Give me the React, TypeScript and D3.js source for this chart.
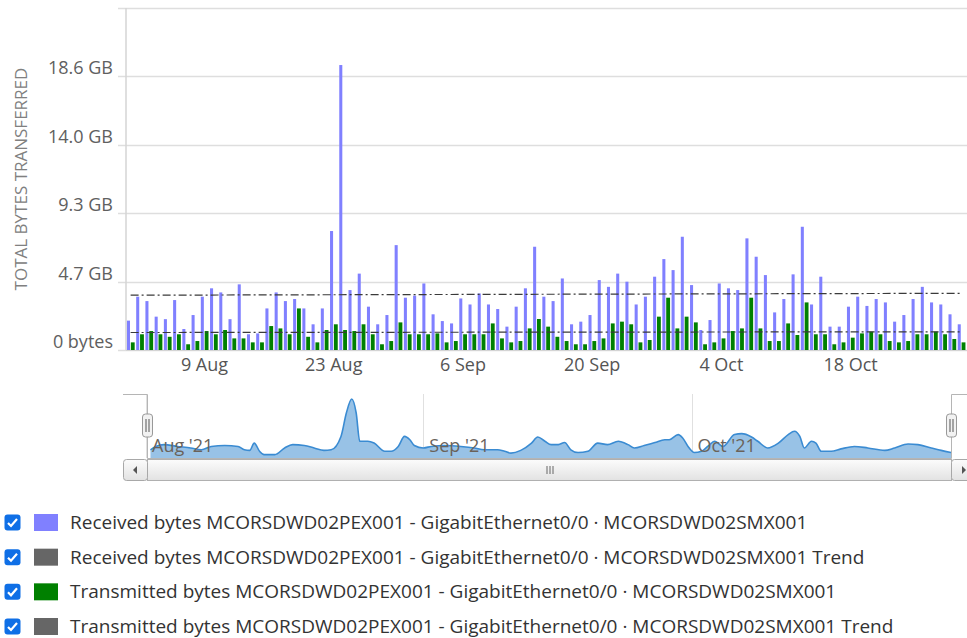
import React, { useEffect, useRef } from 'react';
import * as d3 from 'd3';

// daily values, GB (GiB), 1 Aug 2021 .. 30 Oct 2021
const startDay = new Date(2021, 7, 1);

const receivedGB = [
  2.0, 3.63, 3.33, 2.27, 2.1, 3.4, 1.43, 2.38, 3.63, 4.2,
  3.92, 2.1, 4.47, 1.07, 1.13, 2.83, 3.92, 3.33, 3.47, 2.83,
  1.75, 2.83, 8.1, 19.4, 4.08, 5.2, 2.95, 1.75, 2.38, 7.14,
  3.56, 3.7, 4.53, 2.43, 1.97, 1.81, 3.51, 3.1, 3.85, 3.1,
  2.79, 1.59, 2.95, 4.2, 7.03, 3.63, 3.33, 4.87, 1.75, 1.93,
  2.38, 4.76, 4.3, 5.2, 4.65, 3.1, 3.63, 4.99, 6.19, 5.44,
  7.71, 4.42, 1.36, 2.04, 4.53, 4.2, 4.08, 7.6, 6.35, 5.1,
  2.56, 3.47, 5.15, 8.39, 3.1, 4.99, 1.59, 1.59, 2.95, 3.63,
  3.0, 3.47, 3.24, 1.93, 2.38, 3.47, 4.3, 3.24, 3.1, 2.43,
  1.75,
];

const transmittedGB = [
  0.52, 1.07, 1.29, 1.07, 0.9, 1.07, 0.39, 0.61, 1.29, 1.07,
  1.36, 0.79, 0.79, 0.52, 0.52, 1.63, 1.47, 1.07, 2.83, 0.9,
  0.52, 1.36, 1.75, 1.36, 1.29, 1.75, 1.07, 0.39, 0.61, 1.88,
  1.07, 1.07, 1.07, 1.13, 0.52, 0.61, 1.07, 1.07, 1.07, 1.81,
  0.79, 0.52, 0.61, 1.47, 2.11, 1.59, 0.9, 0.61, 0.39, 0.39,
  0.61, 0.79, 1.81, 1.93, 1.75, 0.52, 0.68, 2.27, 3.56, 1.47,
  2.27, 1.88, 0.39, 0.52, 0.79, 1.29, 1.47, 3.56, 1.47, 0.61,
  0.61, 1.81, 1.02, 3.24, 1.07, 1.07, 0.39, 0.52, 0.84, 1.13,
  1.25, 1.07, 0.61, 0.52, 0.61, 1.07, 1.07, 1.25, 1.07, 0.75,
  0.52,
];

// trend lines: value at first and last day
const receivedTrend = [3.73, 3.86];
const transmittedTrend = [1.19, 1.24];

const yTickBytes = [0, 5e9, 10e9, 15e9, 20e9, 25e9];
const xTickDates = ['2021-08-09', '2021-08-23', '2021-09-06', '2021-09-20', '2021-10-04', '2021-10-18'];

// navigator series (day offset from 1 Aug, GB)
const navDays = [
  0.5, 1.1, 2.0, 3.5, 5.0, 6.2, 7.3, 8.8, 10.3, 11.0, 11.6, 12.1, 12.7, 13.2, 14.4, 15.5,
  16.4, 17.7, 18.8, 19.9, 20.7, 21.8, 22.4, 23.0, 23.5, 23.9, 24.8, 25.5, 26.7, 27.4, 28.2,
  28.9, 29.5, 30.0, 31.0, 31.9, 33.4, 35.2, 36.7, 37.8, 39.3, 40.1, 40.8, 41.9, 43.1, 43.8,
  44.6, 45.3, 46.1, 46.8, 47.5, 48.3, 49.4, 50.5, 51.6, 52.8, 53.9, 54.6, 55.7, 56.9, 58.0,
  58.5, 59.5, 60.0, 60.6, 61.3, 62.1, 62.8, 63.6, 64.5, 65.8, 66.6, 67.7, 68.4, 69.5, 70.7,
  71.8, 72.5, 73.1, 73.6, 74.4, 74.9, 75.5, 76.6, 77.7, 79.2, 80.7, 82.6, 83.7, 85.2, 86.3,
  87.8, 88.9, 90.0,
];
const navValues = [
  2.7, 3.8, 4.4, 3.8, 3.3, 2.7, 3.8, 4.1, 3.8, 2.7, 2.5, 4.9, 2.2, 1.1, 1.1, 3.3,
  4.4, 4.1, 3.3, 2.5, 2.7, 7.1, 14.8, 19.4, 14.8, 5.5, 5.5, 4.9, 2.2, 2.2, 3.8,
  7.1, 6.0, 4.1, 3.3, 3.8, 4.1, 3.8, 3.3, 2.7, 2.7, 2.2, 1.6, 2.5, 4.9, 6.9,
  5.5, 4.4, 4.4, 5.1, 2.7, 1.8, 2.2, 4.9, 4.4, 5.5, 4.4, 3.3, 4.1, 5.1, 6.0,
  6.0, 7.7, 6.6, 3.8, 1.8, 2.2, 3.8, 5.5, 3.8, 7.7, 8.0, 6.9, 5.5, 3.3, 4.9,
  7.7, 8.8, 7.1, 3.3, 5.5, 4.9, 2.2, 2.2, 3.0, 3.8, 3.3, 2.5, 3.3, 4.6, 4.4,
  3.3, 2.5, 1.8,
];
const navMonthDates = ['2021-08-01', '2021-09-01', '2021-10-01'];

const legendLabels = [
  'Received bytes MCORSDWD02PEX001 - GigabitEthernet0/0 · MCORSDWD02SMX001',
  'Received bytes MCORSDWD02PEX001 - GigabitEthernet0/0 · MCORSDWD02SMX001 Trend',
  'Transmitted bytes MCORSDWD02PEX001 - GigabitEthernet0/0 · MCORSDWD02SMX001',
  'Transmitted bytes MCORSDWD02PEX001 - GigabitEthernet0/0 · MCORSDWD02SMX001 Trend',
];
const legendColors = ['#8080ff', '#666666', '#008000', '#666666'];

const GiB = 1024 * 1024 * 1024;
const parseDay = (s: string) => {
  const [y, m, d] = s.split('-').map(Number);
  return new Date(y, m - 1, d);
};

export default function App() {
  const svgRef = useRef<SVGSVGElement>(null);

  useEffect(() => {
    if (!svgRef.current) return;
    const svg = d3.select(svgRef.current);
    svg.selectAll('*').remove();

    const font = "'Open Sans', sans-serif";
    const plot = { left: 126, right: 966, top: 8, bottom: 350 };
    const days = receivedGB.map((_, i) => d3.timeDay.offset(startDay, i));
    const lastDay = days[days.length - 1];

    const x = d3.scaleTime()
      .domain([d3.timeHour.offset(startDay, -12), d3.timeHour.offset(lastDay, 12)])
      .range([plot.left, plot.right]);
    const y = d3.scaleLinear()
      .domain([0, 25e9 / GiB])
      .range([plot.bottom, plot.top]);

    const dayW = x(days[1]) - x(days[0]);
    const sub = d3.scaleBand()
      .domain(['rx', 'tx'])
      .range([-dayW * 0.44, dayW * 0.44])
      .paddingInner(0.1);

    const defs = svg.append('defs');
    defs.append('clipPath').attr('id', 'plot-clip')
      .append('rect')
      .attr('x', plot.left).attr('y', 0)
      .attr('width', 967 - plot.left).attr('height', plot.bottom + 1);
    const grad = defs.append('linearGradient').attr('id', 'sb-grad')
      .attr('x1', 0).attr('y1', 0).attr('x2', 0).attr('y2', 1);
    grad.append('stop').attr('offset', '0%').attr('stop-color', '#fcfcfc');
    grad.append('stop').attr('offset', '100%').attr('stop-color', '#e2e2e2');

    // grid + y ticks
    const gGrid = svg.append('g');
    yTickBytes.forEach(b => {
      const yy = Math.round(y(b / GiB)) + 0.5;
      gGrid.append('line')
        .attr('x1', 118).attr('x2', 967)
        .attr('y1', yy).attr('y2', yy)
        .attr('stroke', '#dedede').attr('stroke-width', 1.5);
    });
    svg.append('line')
      .attr('x1', plot.left).attr('x2', plot.left)
      .attr('y1', plot.top).attr('y2', plot.bottom)
      .attr('stroke', '#d4d4d4').attr('stroke-width', 1.5);

    svg.append('g').selectAll('text')
      .data(yTickBytes.slice(0, -1))
      .enter().append('text')
      .attr('x', 113)
      .attr('y', d => y(d / GiB) - 2)
      .attr('text-anchor', 'end')
      .attr('font-family', font).attr('font-size', 18)
      .attr('fill', '#606060')
      .text(d => d === 0 ? '0 bytes' : `${(d / GiB).toFixed(1)} GB`);

    svg.append('text')
      .attr('transform', 'translate(27,179) rotate(-90)')
      .attr('text-anchor', 'middle')
      .attr('font-family', font).attr('font-size', 17)
      .attr('fill', '#808080')
      .text('TOTAL BYTES TRANSFERRED');

    // x labels
    svg.append('g').selectAll('text')
      .data(xTickDates.map(parseDay))
      .enter().append('text')
      .attr('x', d => x(d))
      .attr('y', 371)
      .attr('text-anchor', 'middle')
      .attr('font-family', font).attr('font-size', 18)
      .attr('fill', '#555')
      .text(d => d3.timeFormat('%-d %b')(d));

    // columns
    const gBars = svg.append('g').attr('clip-path', 'url(#plot-clip)');
    gBars.selectAll('.rx')
      .data(receivedGB)
      .enter().append('rect')
      .attr('x', (_, i) => x(days[i]) + (sub('rx') || 0) + 0.4)
      .attr('y', d => y(d))
      .attr('width', sub.bandwidth() - 0.8)
      .attr('height', d => plot.bottom - y(d))
      .attr('fill', '#8080ff');
    gBars.selectAll('.tx')
      .data(transmittedGB)
      .enter().append('rect')
      .attr('x', (_, i) => x(days[i]) + (sub('tx') || 0))
      .attr('y', d => y(d))
      .attr('width', sub.bandwidth())
      .attr('height', d => plot.bottom - y(d))
      .attr('fill', '#008000');

    // trend lines
    const trendLine = d3.line<number>()
      .x((_, i) => x(i === 0 ? days[0] : lastDay))
      .y(d => y(d));
    [receivedTrend, transmittedTrend].forEach(t => {
      gBars.append('path')
        .attr('d', trendLine(t))
        .attr('fill', 'none')
        .attr('stroke', '#3a3a3a')
        .attr('stroke-width', 1.2)
        .attr('stroke-dasharray', '8,3,2,3');
    });

    // x axis line
    svg.append('line')
      .attr('x1', plot.left).attr('x2', 967)
      .attr('y1', plot.bottom + 0.5).attr('y2', plot.bottom + 0.5)
      .attr('stroke', '#d4d4d4').attr('stroke-width', 1);

    // navigator
    const nav = { top: 394, bottom: 458 };
    const navX = d3.scaleTime().domain([startDay, d3.timeDay.offset(startDay, 90)]).range([146, 951]);
    const navY = d3.scaleLinear().domain([0, 19.4]).range([nav.bottom, 399]);
    const navDates = navDays.map(d => new Date(startDay.getTime() + d * 864e5));
    const gNav = svg.append('g');
    navMonthDates.map(parseDay).forEach(d => {
      const xx = Math.round(navX(d)) + 0.5;
      gNav.append('line')
        .attr('x1', xx).attr('x2', xx)
        .attr('y1', nav.top).attr('y2', nav.bottom)
        .attr('stroke', '#e0e0e0');
    });
    const navArea = d3.area<number>()
      .curve(d3.curveMonotoneX)
      .x((_, i) => navX(navDates[i]))
      .y0(nav.bottom)
      .y1(d => navY(d));
    gNav.append('path')
      .attr('d', navArea(navValues))
      .attr('fill', '#98c2e6');
    gNav.append('path')
      .attr('d', navArea.lineY1()(navValues))
      .attr('fill', 'none')
      .attr('stroke', '#3a8bd2')
      .attr('stroke-width', 1.6);
    navMonthDates.map(parseDay).forEach(d => {
      gNav.append('text')
        .attr('x', navX(d) + 6)
        .attr('y', 452)
        .attr('font-family', font).attr('font-size', 18)
        .attr('fill', '#6a625a')
        .text(d3.timeFormat("%b '%y")(d));
    });

    const hL = 147.5, hR = 951.5;
    gNav.append('path')
      .attr('d', `M123,${nav.top + 0.5}H${hL}V${nav.bottom + 0.5}H${hR}V${nav.top + 0.5}H967`)
      .attr('fill', 'none')
      .attr('stroke', '#b5b5b5');
    [hL, hR].forEach(c => {
      gNav.append('rect')
        .attr('x', c - 5).attr('y', 414)
        .attr('width', 10).attr('height', 23)
        .attr('rx', 3)
        .attr('fill', '#f2f2f2').attr('stroke', '#999');
      [-1.5, 1.5].forEach(o => {
        gNav.append('line')
          .attr('x1', c + o).attr('x2', c + o)
          .attr('y1', 419).attr('y2', 432)
          .attr('stroke', '#555');
      });
    });

    // scrollbar
    const sb = { top: 459.5, h: 21 };
    const gSb = svg.append('g');
    gSb.append('rect')
      .attr('x', hL).attr('y', sb.top)
      .attr('width', hR - hL).attr('height', sb.h)
      .attr('fill', 'url(#sb-grad)').attr('stroke', '#b0b0b0');
    [[123.5, hL], [hR, 978]].forEach(([a, b]) => {
      gSb.append('rect')
        .attr('x', a).attr('y', sb.top)
        .attr('width', b - a).attr('height', sb.h)
        .attr('rx', 3)
        .attr('fill', 'url(#sb-grad)').attr('stroke', '#a8a8a8');
    });
    const cy = sb.top + sb.h / 2;
    gSb.append('path').attr('d', `M133,${cy}L137,${cy - 4}V${cy + 4}Z`).attr('fill', '#555');
    gSb.append('path').attr('d', `M966,${cy}L962,${cy - 4}V${cy + 4}Z`).attr('fill', '#555');
    const gc = (hL + hR) / 2;
    [-3, 0, 3].forEach(o => {
      gSb.append('line')
        .attr('x1', gc + o + 0.5).attr('x2', gc + o + 0.5)
        .attr('y1', cy - 4).attr('y2', cy + 4)
        .attr('stroke', '#666');
    });

    // legend
    const rowY = d3.scaleLinear().domain([0, 3]).range([522.5, 626.5]);
    const gLeg = svg.append('g');
    legendLabels.forEach((lab, i) => {
      const yy = rowY(i);
      gLeg.append('rect')
        .attr('x', 4.5).attr('y', yy - 8)
        .attr('width', 16).attr('height', 16)
        .attr('rx', 3)
        .attr('fill', '#0f6fe6');
      gLeg.append('path')
        .attr('d', `M8,${yy + 0.5}L11,${yy + 3.5}L17,${yy - 3.5}`)
        .attr('fill', 'none').attr('stroke', '#fff').attr('stroke-width', 2.2);
      gLeg.append('rect')
        .attr('x', 34).attr('y', yy - 8.5)
        .attr('width', 24).attr('height', 17)
        .attr('fill', legendColors[i]);
      gLeg.append('text')
        .attr('x', 70).attr('y', yy + 6.5)
        .attr('font-family', font).attr('font-size', 19)
        .attr('fill', '#333')
        .text(lab);
    });
  }, []);

  return (
    <div style={{ position: 'absolute', left: 0, top: 0, width: 967, height: 638, background: '#fff' }}>
      <svg ref={svgRef} width={967} height={638} style={{ display: 'block' }} />
    </div>
  );
}
